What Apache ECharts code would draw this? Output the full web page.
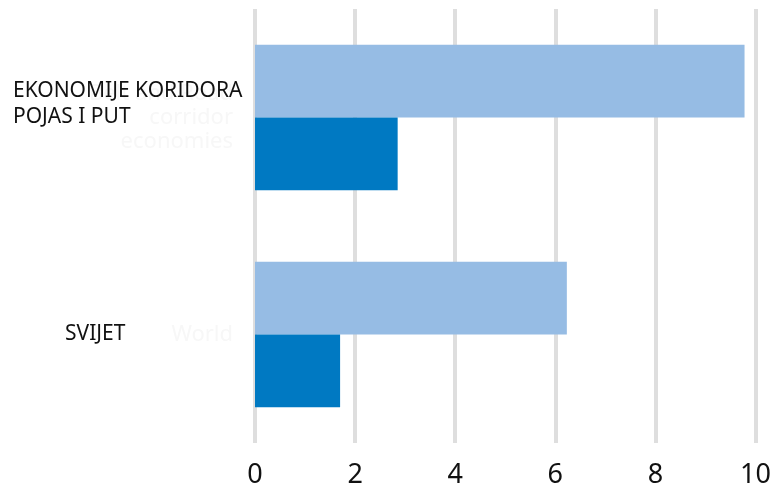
<!DOCTYPE html>
<html>
<head>
<meta charset="utf-8">
<script src="https://cdn.jsdelivr.net/npm/echarts@6/dist/echarts.min.js"></script>
<style>
html, body { margin: 0; padding: 0; background: #ffffff; }
#chart_div { width: 774px; height: 494px; }
</style>
</head>
<body>
<div id="chart_div"></div>
<script>
// categories (top to bottom)
var categories = ['EKONOMIJE KORIDORA\nPOJAS I PUT\n ', 'SVIJET'];
var ghostLabels = ['Belt and Road\ncorridor\neconomies', 'World'];
// series values
var lightValues = [9.78, 6.23];
var darkValues = [2.85, 1.7];
var xTicks = [0, 2, 4, 6, 8, 10];

var chart = echarts.init(document.getElementById('chart_div'));

var option = {
	backgroundColor: '#ffffff',
	animation: false,
	grid: { left: 255, right: 18, top: 9, bottom: 51, containLabel: false },
	xAxis: {
		type: 'value',
		min: xTicks[0],
		max: xTicks[xTicks.length - 1],
		interval: 2,
		axisLine: { show: false },
		axisTick: { show: false },
		splitLine: { show: true, lineStyle: { color: '#dedede', width: 4 } },
		axisLabel: { color: '#111111', fontSize: 27, fontFamily: 'Noto Sans', margin: 19 }
	},
	yAxis: [
		{
			// faint ghost text behind the labels
			type: 'category',
			inverse: true,
			position: 'left',
			data: ghostLabels,
			axisLine: { show: false },
			axisTick: { show: false },
			axisLabel: {
				align: 'right',
				margin: 22,
				color: '#f7f7f7',
				fontSize: 22,
				lineHeight: 24,
				fontFamily: 'Noto Sans'
			}
		},
		{
			type: 'category',
			inverse: true,
			position: 'left',
			data: categories,
			axisLine: { show: false },
			axisTick: { show: false },
			axisLabel: {
				align: 'left',
				margin: 242,
				color: '#111111',
				fontSize: 21,
				lineHeight: 26,
				fontFamily: 'Noto Sans',
				formatter: function(v, i) {
					return i === 1 ? '{s|' + v + '}' : v;
				},
				rich: {
					s: { padding: [0, 0, 0, 52], fontSize: 21, color: '#111111', fontFamily: 'Noto Sans' }
				}
			}
		}
	],
	series: [
		{
			type: 'bar',
			data: lightValues,
			barGap: '0%',
			barCategoryGap: '33%',
			itemStyle: { color: '#96bce4' }
		},
		{
			type: 'bar',
			data: darkValues,
			barGap: '0%',
			barCategoryGap: '33%',
			itemStyle: { color: '#0079c2' }
		}
	]
};

chart.setOption(option);
</script>
</body>
</html>
